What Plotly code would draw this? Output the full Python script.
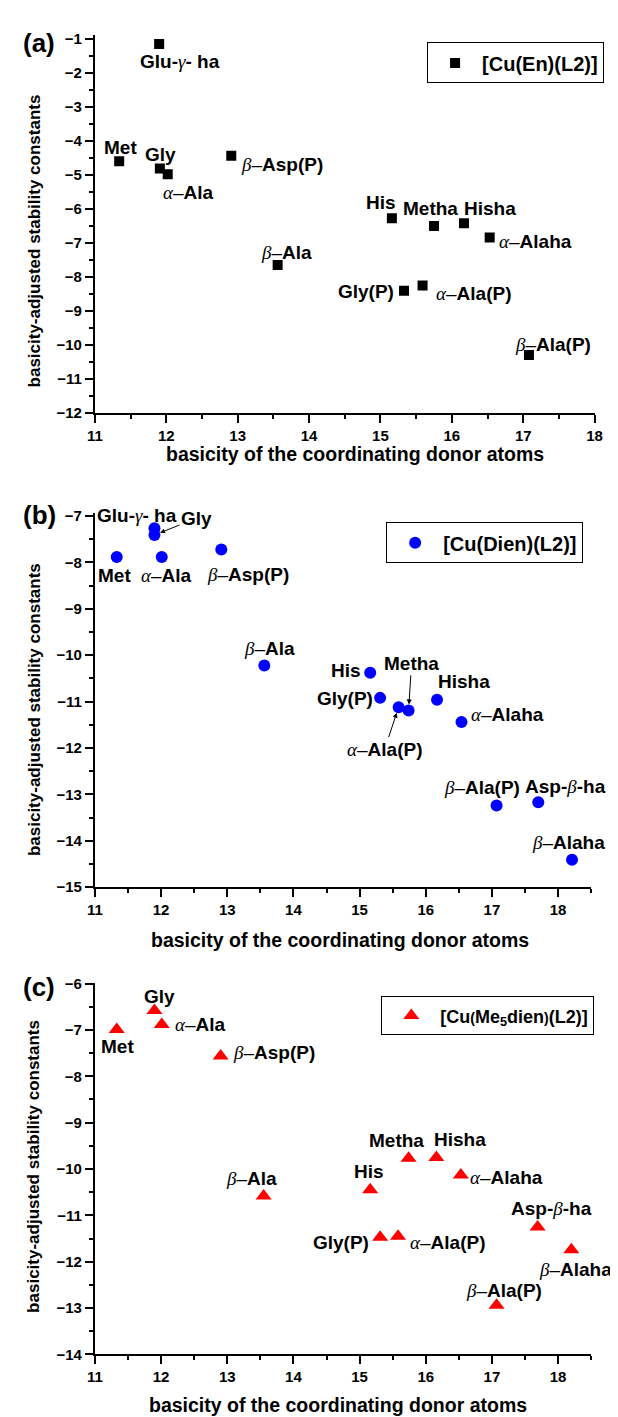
import plotly.graph_objects as go

# ---------------- data ----------------
# Panel (a) [Cu(En)(L2)]
a_names = ["Glu-γ- ha", "Met", "Gly", "α–Ala", "β–Asp(P)", "His", "Metha", "Hisha",
           "α–Alaha", "β–Ala", "Gly(P)", "α–Ala(P)", "β–Ala(P)"]
a_x = [11.90, 11.34, 11.91, 12.02, 12.91, 15.16, 15.75, 16.17, 16.53, 13.56, 15.33, 15.59, 17.08]
a_y = [-1.15, -4.60, -4.81, -4.98, -4.44, -6.27, -6.50, -6.42, -6.84, -7.65, -8.40, -8.25, -10.29]

# Panel (b) [Cu(Dien)(L2)]
b_names = ["Glu-γ- ha", "Gly", "Met", "α–Ala", "β–Asp(P)", "β–Ala", "His", "Metha", "Gly(P)",
           "Hisha", "α–Ala(P)", "α–Alaha", "β–Ala(P)", "Asp-β-ha", "β–Alaha"]
b_x = [11.90, 11.90, 11.33, 12.01, 12.91, 13.56, 15.16, 15.74, 15.31, 16.17, 15.59, 16.54, 17.07, 17.70, 18.21]
b_y = [-7.26, -7.41, -7.88, -7.88, -7.72, -10.22, -10.38, -11.19, -10.92, -10.96, -11.12, -11.44, -13.24, -13.17, -14.41]

# Panel (c) [Cu(Me5dien)(L2)]
c_names = ["Gly", "α–Ala", "Met", "β–Asp(P)", "Metha", "Hisha", "His", "α–Alaha", "β–Ala",
           "Asp-β-ha", "Gly(P)", "α–Ala(P)", "β–Alaha", "β–Ala(P)"]
c_x = [11.90, 12.01, 11.33, 12.90, 15.74, 16.16, 15.16, 16.53, 13.55, 17.69, 15.31, 15.58, 18.20, 17.07]
c_y = [-6.58, -6.88, -6.99, -7.56, -9.77, -9.75, -10.45, -10.13, -10.58, -11.25, -11.47, -11.45, -11.74, -12.94]

series_names = ["[Cu(En)(L2)]", "[Cu(Dien)(L2)]",
                "[Cu<span style='font-size:14px'>(</span>Me<sub>5</sub>dien"
                "<span style='font-size:14px'>)</span>(L2)]"]
panel_tags = ["(a)", "(b)", "(c)"]
x_title = "basicity of the coordinating donor atoms"
y_title = "basicity-adjusted stability constants"

# ---------------- label placement (pixel offsets from point) ----------------
a_off = {"Glu-γ- ha": (21, 18), "Met": (1, -14), "Gly": (1, -14), "α–Ala": (21, 18),
         "β–Asp(P)": (51, 9), "His": (-11, -16), "Metha": (-3, -17), "Hisha": (26, -15),
         "α–Alaha": (46, 4), "β–Ala": (9, -13), "Gly(P)": (-38, 1), "α–Ala(P)": (51, 8),
         "β–Ala(P)": (24, -10)}
b_off = {"Glu-γ- ha": (-17, -13), "Gly": (42, -17), "Met": (-2, 19), "α–Ala": (5, 19),
         "β–Asp(P)": (27, 25), "β–Ala": (5, -17), "His": (-24, -2), "Metha": (3, -47),
         "Gly(P)": (-35, 1), "Hisha": (27, -18), "α–Ala(P)": (-14, 42), "α–Alaha": (46, -7),
         "β–Ala(P)": (-15, -18), "Asp-β-ha": (27, -16), "β–Alaha": (-4, -17)}
b_arrows = {"Gly", "Metha", "α–Ala(P)"}
c_off = {"Gly": (5, -14), "α–Ala": (39, 0), "Met": (1, 17), "β–Asp(P)": (53, -3),
         "Metha": (-12, -18), "Hisha": (24, -18), "His": (-1, -18), "α–Alaha": (46, 2),
         "β–Ala": (-12, -17), "Asp-β-ha": (14, -18), "Gly(P)": (-39, 5), "α–Ala(P)": (50, 6),
         "β–Alaha": (4, 20), "β–Ala(P)": (7, -15)}

W, H = 618, 1417
FONT = "Liberation Sans, Arial, sans-serif"
LABEL_SIZE = 19


def fmt(name):
    out, run = [], ""
    for ch in name:
        if ch in "αβγ":
            if run:
                out.append("<b>" + run + "</b>")
                run = ""
            out.append("<span style=\"font-family:'Liberation Serif';font-style:italic;font-weight:normal\">"
                       + ch + "</span>")
        elif ch == "–":
            if run:
                out.append("<b>" + run + "</b>")
                run = ""
            out.append(ch)
        else:
            run += ch
    if run:
        out.append("<b>" + run + "</b>")
    return "".join(out)


def fy(px):
    return 1 - px / H


fig = go.Figure()

panels = [
    dict(x=a_x, y=a_y, names=a_names, off=a_off, arrows=set(), symbol="square", size=10,
         color="black", xdom=[81 / W, 594 / W], xr=[11, 18], ydom=[fy(401.7), fy(19.6)], yr=[-12, -0.9],
         leg=dict(x=422 / W, y=fy(26.7)), iw=44, lf=20, tag_y=27.5, xt_x=348, xt_y=443, yt_y=228),
    dict(x=b_x, y=b_y, names=b_names, off=b_off, arrows=b_arrows, symbol="circle", size=12,
         color="#0000FF", xdom=[81 / W, 590.5 / W], xr=[11, 18.5], ydom=[fy(881), fy(503)], yr=[-15, -6.94],
         leg=dict(x=380 / W, y=fy(512)), iw=46, lf=20, tag_y=505, xt_x=333, xt_y=935, yt_y=702),
    dict(x=c_x, y=c_y, names=c_names, off=c_off, arrows=set(), symbol="triangle-up", size=14,
         color="#FF0000", xdom=[81 / W, 590.5 / W], xr=[11, 18.5], ydom=[fy(1353.7), fy(977.7)], yr=[-14, -5.98],
         leg=dict(x=375 / W, y=fy(991.5)), iw=48, lf=18, tag_y=981.7, xt_x=331, xt_y=1405, yt_y=1164),
]

annotations = []
for i, p in enumerate(panels):
    k = "" if i == 0 else str(i + 1)
    xa, ya = "x" + k, "y" + k
    legname = "legend" + k
    fig.add_trace(go.Scatter(
        x=p["x"], y=p["y"], mode="markers", name=series_names[i],
        marker=dict(symbol=p["symbol"], size=p["size"], color=p["color"], line=dict(width=0)),
        xaxis=xa, yaxis=ya, legend=legname, showlegend=True))

    axis_common = dict(showline=True, linewidth=2, linecolor="black", ticks="outside", ticklen=8,
                       tickwidth=2, tickcolor="black", showgrid=False, zeroline=False, mirror=False,
                       tickfont=dict(family=FONT, size=15, color="black", weight="bold"),
                       dtick=1, minor=dict(ticks="outside", ticklen=4, tickwidth=2, tickcolor="black", dtick=0.5))
    fig.update_layout(**{
        "xaxis" + k: dict(domain=p["xdom"], range=p["xr"], anchor=ya, tick0=11, **axis_common),
        "yaxis" + k: dict(domain=p["ydom"], range=p["yr"], anchor=xa, tick0=0, **axis_common),
        legname: dict(x=p["leg"]["x"], y=p["leg"]["y"], xanchor="left", yanchor="top",
                      bordercolor="black", borderwidth=1, bgcolor="white", itemwidth=p["iw"],
                      font=dict(family=FONT, size=p["lf"], color="black", weight="bold")),
    })

    for name, xv, yv in zip(p["names"], p["x"], p["y"]):
        dx, dy = p["off"][name]
        if name in p["arrows"]:
            annotations.append(dict(x=xv, y=yv, xref=xa, yref=ya, text=fmt(name), showarrow=True,
                                    ax=dx, ay=dy, arrowhead=2, arrowsize=1, arrowwidth=1,
                                    arrowcolor="black", standoff=6,
                                    font=dict(family=FONT, size=LABEL_SIZE, color="black")))
        else:
            annotations.append(dict(x=xv, y=yv, xref=xa, yref=ya, text=fmt(name), showarrow=False,
                                    xshift=dx, yshift=-dy, xanchor="center", yanchor="middle",
                                    font=dict(family=FONT, size=LABEL_SIZE, color="black")))

    annotations.append(dict(x=24 / W, y=fy(p["tag_y"]), xref="paper", yref="paper", text="<b>" + panel_tags[i] + "</b>",
                            showarrow=False, xanchor="center", yanchor="middle",
                            font=dict(family=FONT, size=26, color="black")))
    annotations.append(dict(x=p["xt_x"] / W, y=fy(p["xt_y"]), xref="paper", yref="paper", text="<b>" + x_title + "</b>",
                            showarrow=False, xanchor="center", yanchor="middle",
                            font=dict(family=FONT, size=19.5, color="black")))
    annotations.append(dict(x=18.5 / W, y=fy(p["yt_y"]), xref="paper", yref="paper", text="<b>" + y_title + "</b>",
                            showarrow=False, xanchor="center", yanchor="middle", textangle=-90,
                            font=dict(family=FONT, size=17, color="black")))

fig.update_layout(width=W, height=H, margin=dict(l=0, r=0, t=0, b=0),
                  paper_bgcolor="white", plot_bgcolor="white", annotations=annotations)

fig.write_html("out.html")
